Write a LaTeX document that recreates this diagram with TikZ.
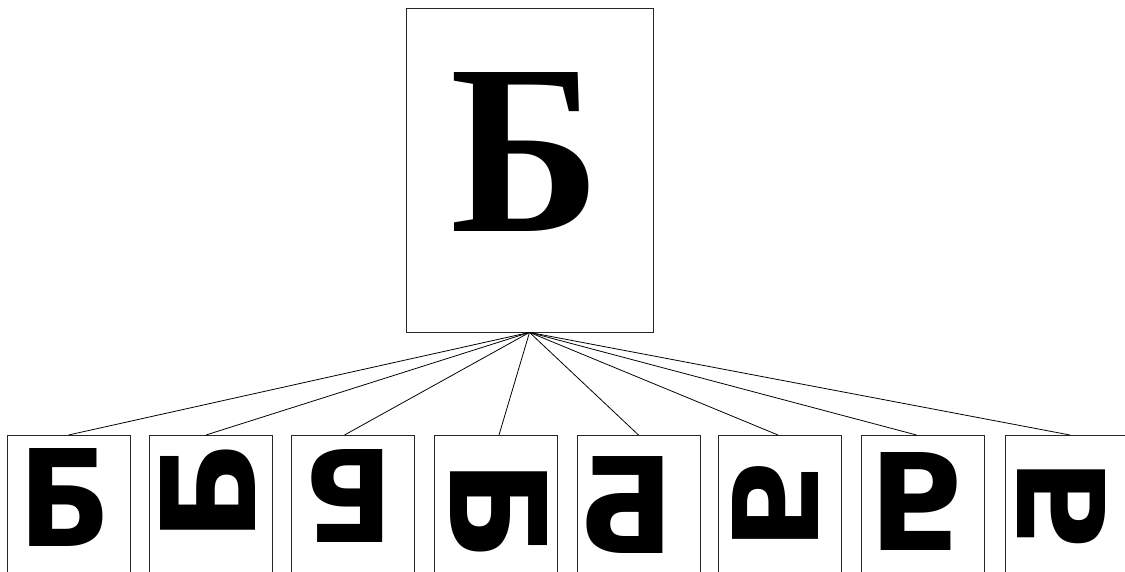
\documentclass[tikz,border=0pt]{standalone}
\usepackage{fontspec}
\setmainfont{Liberation Serif}
\newfontfamily\glyphfont{DejaVu Sans}
\usepackage{tikz}
\usetikzlibrary{positioning}
\colorlet{framecol}{black!85}
\newcommand{\srcletter}{\textbf{Б}}
\newcommand{\sampleletter}{{\glyphfont\bfseries Б}}
\tikzset{
  pagebox/.style={draw=framecol, line width=0.5pt, minimum width=4.94cm, minimum height=6.48cm, inner sep=0pt},
  samplebox/.style={draw=framecol, line width=0.5pt, minimum width=2.46cm, minimum height=3.2cm, inner sep=0pt, anchor=north},
  glyph/.style={inner sep=0pt, outer sep=0pt},
  fanline/.style={line width=0.45pt},
}

\begin{document}
\begin{tikzpicture}[x=0.02cm, y=-0.02cm]
    \useasboundingbox (0,0) rectangle (1125,571);
    \clip (0,0) rectangle (1125,571);

    % Source page
    \node[pagebox] (src) at (529.5,170) {};
    \node[glyph] (srcglyph) at (525,152.5) {\resizebox*{3.0cm}{3.18cm}{\srcletter}};

    % Samples
    \foreach \i/\cx in {1/68.5,2/211,3/352.5,4/496,5/638.5,6/780,7/922.5,8/1067}
      \node[samplebox] (box\i) at (\cx,435) {};

    \node[glyph] (glyph1) at (65,497) {\resizebox*{1.86cm}{1.96cm}{\sampleletter}};
    \node[glyph] (glyph2) at (207.5,491) {\resizebox*{1.9cm}{2.04cm}{\rotatebox{90}{\sampleletter}}};
    \node[glyph] (glyph3) at (349,495.5) {\resizebox*{1.8cm}{1.86cm}{\rotatebox{180}{\sampleletter}}};
    \node[glyph] (glyph4) at (498.5,510) {\resizebox*{1.94cm}{2.04cm}{\rotatebox{-90}{\sampleletter}}};
    \node[glyph] (glyph5) at (626.5,504.5) {\resizebox*{1.93cm}{1.94cm}{\reflectbox{\sampleletter}}};
    \node[glyph] (glyph6) at (775,504) {\resizebox*{1.72cm}{1.85cm}{\reflectbox{\rotatebox{90}{\sampleletter}}}};
    \node[glyph] (glyph7) at (917.5,501) {\resizebox*{1.93cm}{1.96cm}{\rotatebox{180}{\reflectbox{\sampleletter}}}};
    \node[glyph] (glyph8) at (1061,505.5) {\resizebox*{1.76cm}{1.88cm}{\reflectbox{\rotatebox{-90}{\sampleletter}}}};

    % Fan
    \foreach \i/\dx in {1/0,2/-5,3/-8,4/3,5/0,6/-2,7/-6,8/3}
      \draw[fanline] (src.south) -- ([xshift=\dx*0.02cm]box\i.north);
\end{tikzpicture}
\end{document}
